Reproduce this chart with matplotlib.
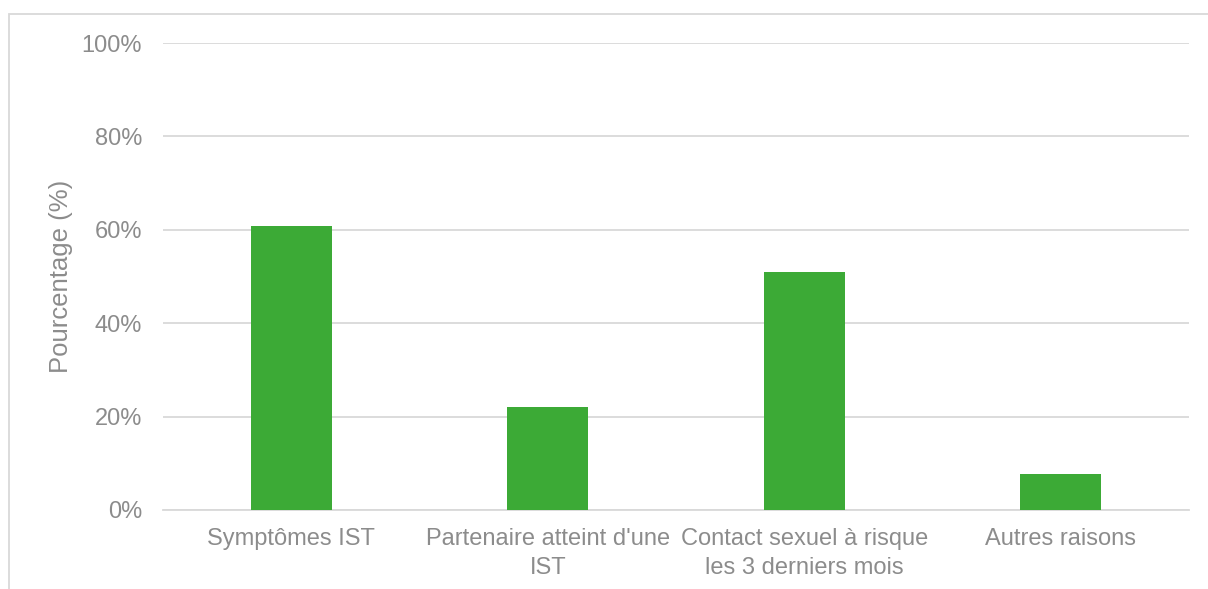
import matplotlib
matplotlib.use("Agg")
import matplotlib.pyplot as plt
from matplotlib.patches import Rectangle
from matplotlib.ticker import FuncFormatter

plt.rcParams['font.family'] = ['Liberation Sans', 'DejaVu Sans']

categories = ["Symptômes IST", "Partenaire atteint d'une\nIST",
              "Contact sexuel à risque\nles 3 derniers mois", "Autres raisons"]
values = [60.9, 22.0, 50.9, 7.7]
y_ticks = [0, 20, 40, 60, 80, 100]

W, H = 1208, 589
fig = plt.figure(figsize=(W / 100, H / 100), dpi=100)
ax = fig.add_axes([163 / W, (H - 510) / H, (1189 - 163) / W, (510 - 43) / H])

text_color = '#8c8c8c'
grid_color = '#d9d9d9'
bar_color = '#3caa36'

x = range(len(categories))
ax.bar(x, values, width=0.314, color=bar_color, zorder=3)

ax.set_xlim(-0.5, len(categories) - 0.5)
ax.set_ylim(0, 100)
ax.set_yticks(y_ticks)
ax.yaxis.set_major_formatter(FuncFormatter(lambda v, p: f"{v:.0f}%"))
ax.grid(axis='y', color=grid_color, linewidth=1.3, zorder=0)
ax.set_xticks(list(x))
ax.set_xticklabels(categories, linespacing=1.4)

for s in ['top', 'right', 'left']:
    ax.spines[s].set_visible(False)
ax.spines['bottom'].set_color(grid_color)
ax.spines['bottom'].set_linewidth(1.3)

ax.tick_params(axis='both', length=0, labelsize=17, colors=text_color)
ax.tick_params(axis='y', pad=15)
ax.tick_params(axis='x', pad=13)

ax.set_ylabel("Pourcentage (%)", fontsize=18.5, color=text_color, labelpad=6)

# Outer chart-area frame
fig.patches.append(Rectangle((8.5 / W, -0.05), 1.2, (H - 13.5) / H + 0.05,
                             transform=fig.transFigure, fill=False,
                             edgecolor='#d9d9d9', linewidth=1.3))

fig.savefig("out.png", dpi=100, facecolor='white')
